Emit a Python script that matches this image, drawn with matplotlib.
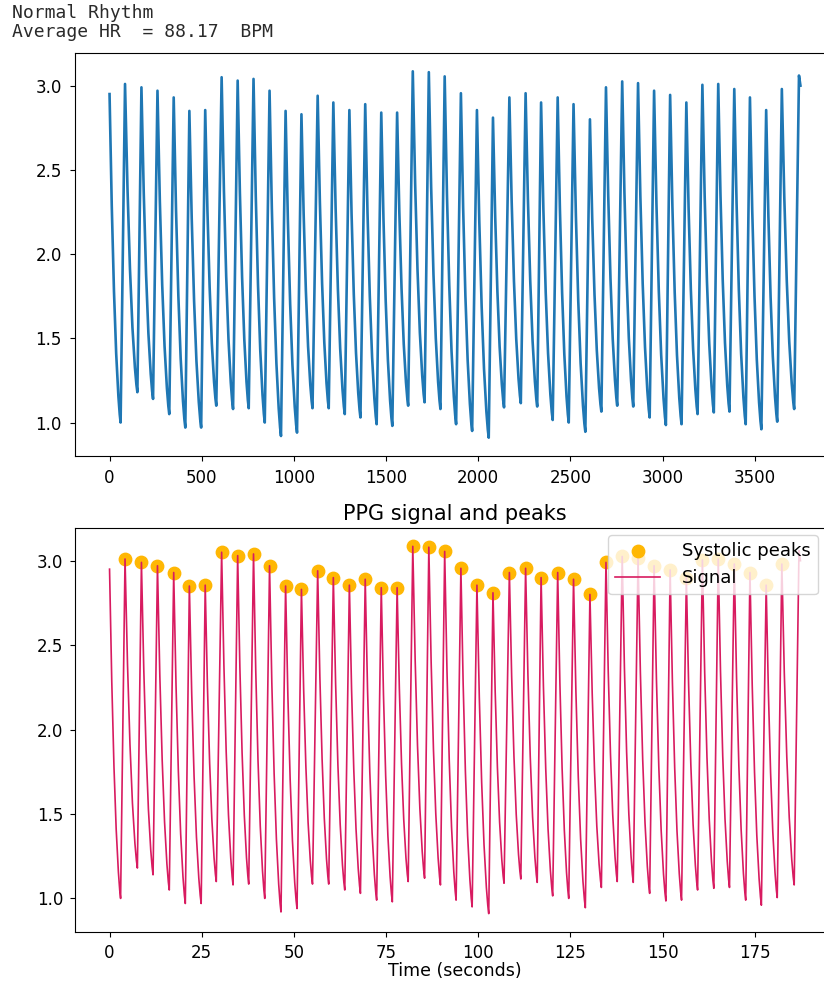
import matplotlib.pyplot as plt
import numpy as np

# values (sample index, amplitude)
fs = 20  # samples per second

start_idx, start_val = 0, 2.95
end_idx, end_val = 3748, 3.00

trough_idx = [60, 151, 236, 324, 411, 497, 579, 670, 755, 842,
              930, 1017, 1101, 1189, 1276, 1361, 1449, 1534, 1620, 1709,
              1795, 1880, 1967, 2057, 2140, 2231, 2320, 2404, 2491, 2581,
              2668, 2754, 2841, 2930, 3018, 3103, 3190, 3278, 3363, 3451,
              3536, 3622, 3714]
trough_val = [1.00, 1.18, 1.14, 1.05, 0.97, 0.97, 1.10, 1.08, 1.085, 1.00,
              0.92, 0.94, 1.085, 1.085, 1.05, 1.03, 0.99, 0.98, 1.10, 1.12,
              1.08, 0.99, 0.95, 0.91, 1.09, 1.115, 1.095, 1.015, 1.00, 0.945,
              1.065, 1.10, 1.095, 1.03, 0.985, 0.99, 1.05, 1.06, 1.065, 0.99,
              0.96, 1.005, 1.08]

peak_idx = [84, 173, 260, 348, 433, 519, 608, 695, 781, 868,
            955, 1041, 1129, 1214, 1301, 1387, 1474, 1560, 1645, 1732,
            1818, 1906, 1993, 2080, 2169, 2257, 2341, 2431, 2517, 2606,
            2693, 2781, 2867, 2954, 3041, 3129, 3216, 3302, 3389, 3474,
            3562, 3647, 3740]
peak_val = [3.01, 2.99, 2.97, 2.93, 2.85, 2.855, 3.05, 3.03, 3.04, 2.97,
            2.85, 2.83, 2.94, 2.90, 2.855, 2.89, 2.84, 2.84, 3.085, 3.08,
            3.055, 2.955, 2.855, 2.81, 2.93, 2.955, 2.90, 2.93, 2.89, 2.80,
            2.99, 3.025, 3.015, 2.97, 2.945, 2.90, 3.005, 3.01, 2.98, 2.93,
            2.855, 2.98, 3.06]

# shape of the falling edge, read from the first beat:
# (fraction of fall time, fraction of height left)
fall_t = [0.0, 0.2, 0.4, 0.6, 0.8, 0.92, 1.0]
fall_h = [1.0, 0.66, 0.40, 0.21, 0.08, 0.025, 0.0]

# systolic peaks detected (last one at the edge was not marked)
n_marked = 42

# signal vertices: start, fall, trough, rise, peak, ..., end
prev_i, prev_v = start_idx, start_val
sig_idx = []
sig_val = []
for ti, tv, pi, pv in zip(trough_idx, trough_val, peak_idx, peak_val):
    for ft, fh in zip(fall_t, fall_h):
        sig_idx.append(prev_i + ft * (ti - prev_i))
        sig_val.append(tv + fh * (prev_v - tv))
    prev_i, prev_v = pi, pv
sig_idx += [peak_idx[-1], end_idx]
sig_val += [peak_val[-1], end_val]
sig_idx = np.array(sig_idx)
sig_val = np.array(sig_val)

fig = plt.figure(figsize=(8.24, 9.82), dpi=100)

fig.text(12/824, 1 - 4/982, "Normal Rhythm\nAverage HR  = 88.17  BPM",
         family="DejaVu Sans Mono", fontsize=13, color="#2a2a2a",
         va="top", ha="left", linespacing=1.1)

# top: raw samples
ax1 = fig.add_axes([75/824, 1 - 456/982, 760/824, 403/982])
ax1.plot(sig_idx, sig_val, color="#1f77b4", lw=1.9)
ax1.tick_params(labelsize=12, pad=6)

# bottom: time axis with peaks
ax2 = fig.add_axes([75/824, 1 - 932/982, 760/824, 404/982])
t = sig_idx / fs
pk_t = np.array(peak_idx[:n_marked]) / fs
ax2.scatter(pk_t, peak_val[:n_marked], s=80, color="#ffb703",
            label="Systolic peaks")
ax2.plot(t, sig_val, color="#d81b60", lw=1.2, label="Signal")
ax2.set_title("PPG signal and peaks", fontsize=15)
ax2.set_xlabel("Time (seconds)", fontsize=12.5, labelpad=0)
ax2.tick_params(labelsize=12, pad=5)
ax2.legend(loc="upper right", fontsize=13, borderaxespad=0,
           bbox_to_anchor=(743/760, 1 - 7/404),
           handlelength=2.5, handletextpad=1.2)

plt.savefig("out.png", dpi=100)
